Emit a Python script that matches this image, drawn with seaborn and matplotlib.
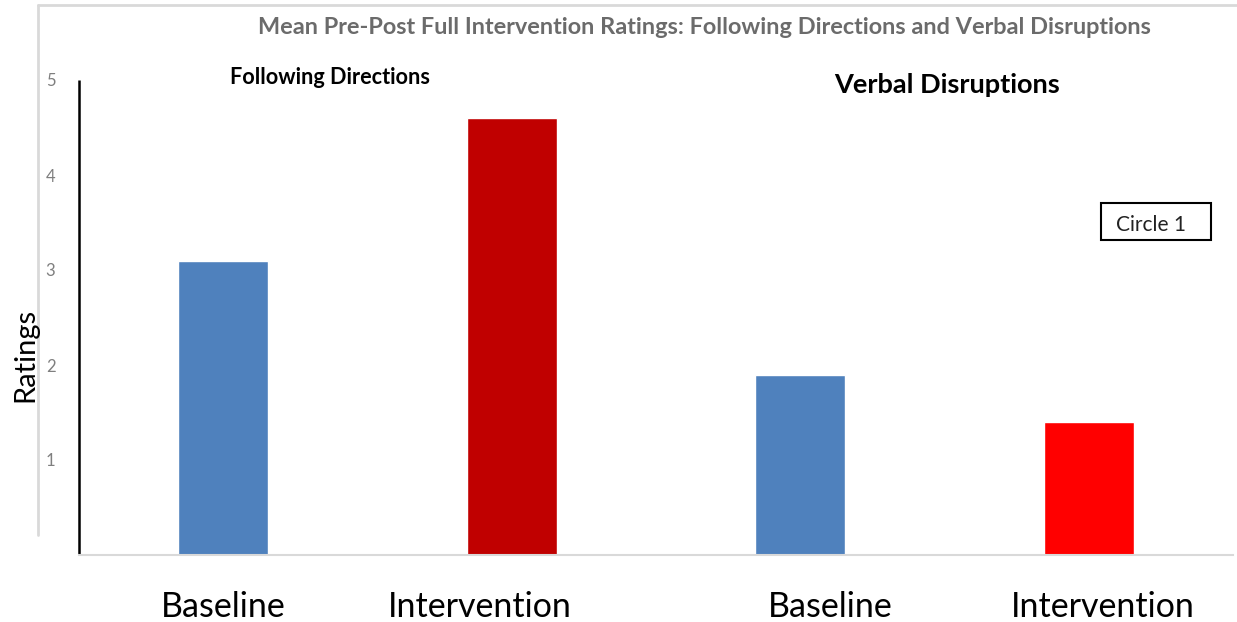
import matplotlib
matplotlib.use("Agg")
import matplotlib.pyplot as plt
from matplotlib.lines import Line2D
from matplotlib.patches import Rectangle
from matplotlib.transforms import ScaledTranslation
import seaborn as sns
import pandas as pd

# Mean ratings per measure and phase
measures = ["Following Directions", "Following Directions", "Verbal Disruptions", "Verbal Disruptions"]
phases = ["Baseline", "Intervention", "Baseline", "Intervention"]
ratings = [3.1, 4.6, 1.9, 1.4]
bar_colors = ["#4F81BD", "#C00000", "#4F81BD", "#FF0000"]
y_ticks = [1, 2, 3, 4, 5]

df = pd.DataFrame({
    "key": [f"{m} | {p}" for m, p in zip(measures, phases)],
    "phase": phases,
    "rating": ratings,
})

sns.set_theme(style="white")
plt.rcParams["font.family"] = ["Lato", "DejaVu Sans"]

W, H = 1237, 622
fig = plt.figure(figsize=(W / 100, H / 100), dpi=100)
ax = fig.add_axes([79 / W, 1 - 555 / H, 1154 / W, 475 / H])

sns.barplot(
    data=df, x="key", y="rating", hue="key",
    palette=dict(zip(df["key"], bar_colors)),
    width=0.3125, saturation=1, legend=False, ax=ax,
)

ax.set_xlim(-0.5, 3.5)
ax.set_ylim(0, 5)
ax.set_yticks(y_ticks)
ax.set_yticklabels([str(t) for t in y_ticks], color="#7f7f7f", fontsize=12)
ax.set_xticks(range(len(phases)))
ax.set_xticklabels(phases, fontsize=24.5, color="black")
ax.tick_params(axis="y", length=0, pad=17)
ax.tick_params(axis="x", length=0, pad=26)
ax.set_xlabel("")
ax.set_ylabel("")

# Category labels sit as free text boxes, nudged sideways from the bar centres
label_shifts = [0, -32, 30, 14]
for lbl, dx in zip(ax.get_xticklabels(), label_shifts):
    lbl.set_transform(lbl.get_transform() + ScaledTranslation(dx / 100, 0, fig.dpi_scale_trans))

for side in ["top", "right"]:
    ax.spines[side].set_visible(False)
ax.spines["left"].set_color("black")
ax.spines["left"].set_linewidth(1.8)
ax.spines["left"].set_capstyle("butt")
ax.spines["bottom"].set_color("#d9d9d9")
ax.spines["bottom"].set_linewidth(1.5)

fig.text(25 / W, 1 - 355 / H, "Ratings", rotation=90, ha="center", va="center",
         fontsize=21, color="black")

# Chart title and section headings
fig.text(704.5 / W, 1 - 27 / H,
         "Mean Pre-Post Full Intervention Ratings: Following Directions and Verbal Disruptions",
         ha="center", va="center", fontsize=16.9, fontweight="bold", color="#6b6b6b")
fig.text(329.5 / W, 1 - 77 / H, "Following Directions", ha="center", va="center",
         fontsize=15.6, fontweight="bold", color="black")
fig.text(947.5 / W, 1 - 85 / H, "Verbal Disruptions", ha="center", va="center",
         fontsize=19.5, fontweight="bold", color="black")

# Annotation box
fig.add_artist(Rectangle((1101 / W, 1 - 240 / H), 110 / W, 37 / H,
                         transform=fig.transFigure, fill=False, edgecolor="black", lw=1.5))
fig.text(1151.5 / W, 1 - 225 / H, "Circle 1", ha="center", va="center",
         fontsize=15, color="#222222")

# Outer chart frame
frame_color = "#d9d9d9"
fig.add_artist(Line2D([38 / W, 1.0], [1 - 5 / H, 1 - 5 / H],
                      transform=fig.transFigure, color=frame_color, lw=2))
fig.add_artist(Line2D([38 / W, 38 / W], [1 - 5 / H, 1 - 535 / H],
                      transform=fig.transFigure, color=frame_color, lw=2))

fig.savefig("out.png", dpi=100, facecolor="white")
